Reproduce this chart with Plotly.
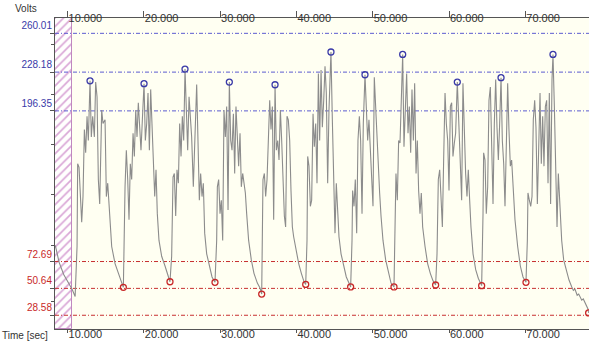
import plotly.graph_objects as go

# ---- data ----
time_s = [
    8.4, 8.9, 9.5, 10.1, 10.6, 11.0,
    11.25, 11.33, 11.51, 11.86, 12.03, 12.21, 12.38, 12.56, 12.73, 12.95, 13.12, 13.30, 13.52, 13.69, 13.87,
    14.04, 14.22, 14.48, 14.65, 14.92, 15.09, 15.27, 15.53, 15.79, 16.23, 16.66, 17.1, 17.32,
    17.54, 17.71, 17.89, 18.06, 18.23, 18.41, 18.59, 18.76, 18.94, 19.11, 19.28, 19.46, 19.63, 19.81, 20.03,
    20.2, 20.38, 20.55, 20.73, 20.9, 21.08, 21.25, 21.43, 21.6, 21.77, 21.99, 22.34, 22.78, 23.22, 23.43,
    23.65, 23.83, 24.0, 24.18, 24.35, 24.53, 24.7, 24.88, 25.05, 25.23, 25.4, 25.58, 25.75, 25.93,
    26.27, 26.49, 26.71, 26.93, 27.1, 27.28, 27.45, 27.63, 27.8, 27.98, 28.24, 28.59, 28.94, 29.33,
    29.55, 29.64, 29.81, 29.99, 30.16, 30.34, 30.51, 30.69, 30.86, 31.04, 31.21, 31.39, 31.56, 31.74, 31.91,
    32.08, 32.26, 32.43, 32.61, 32.78, 32.96, 33.31, 33.48, 33.74, 34.09, 34.44, 34.88, 35.23, 35.45,
    35.62, 35.8, 35.97, 36.15, 36.32, 36.5, 36.67, 36.85, 37.02, 37.2, 37.37, 37.55, 37.72, 37.9, 38.07,
    38.24, 38.42, 38.59, 38.77, 38.94, 39.12, 39.29, 39.47, 39.64, 39.95, 40.3, 40.65, 41.0, 41.22,
    41.39, 41.48, 41.65, 41.83, 42.0, 42.18, 42.35, 42.53, 42.7, 42.88, 43.05, 43.23, 43.4, 43.58, 43.75,
    43.92, 44.1, 44.27, 44.53, 44.71, 44.88, 45.06, 45.23, 45.41, 45.58, 45.85, 46.2, 46.54, 46.89, 47.11,
    47.29, 47.37, 47.55, 47.72, 47.9, 48.07, 48.25, 48.42, 48.6, 48.77, 48.99, 49.17, 49.34, 49.51, 49.69,
    49.86, 50.04, 50.21, 50.39, 50.56, 50.74, 50.91, 51.09, 51.35, 51.7, 52.05, 52.4, 52.79,
    52.97, 53.05, 53.23, 53.4, 53.58, 53.75, 53.93, 54.1, 54.28, 54.45, 54.63, 54.8, 54.98, 55.15, 55.33,
    55.5, 55.68, 55.85, 56.02, 56.2, 56.37, 56.55, 56.86, 57.2, 57.55, 57.9, 58.25,
    58.43, 58.6, 58.78, 58.95, 59.13, 59.3, 59.48, 59.65, 59.83, 60.0, 60.18, 60.35, 60.52, 60.7, 60.87,
    61.09, 61.31, 61.49, 61.66, 61.83, 62.01, 62.18, 62.36, 62.53, 62.71, 62.88, 63.15, 63.5, 63.84, 64.28,
    64.46, 64.54, 64.72, 64.89, 65.07, 65.24, 65.42, 65.59, 65.77, 65.94, 66.12, 66.29, 66.47, 66.64, 66.82,
    66.99, 67.17, 67.34, 67.51, 67.69, 67.86, 68.04, 68.21, 68.39, 68.65, 69.0, 69.35, 69.7, 70.09,
    70.27, 70.35, 70.53, 70.71, 70.88, 71.05, 71.23, 71.4, 71.58, 71.75, 71.93, 72.1, 72.28, 72.45, 72.63,
    72.8, 72.98, 73.15, 73.32, 73.5, 73.63, 73.81, 73.98, 74.16, 74.33, 74.5, 74.77, 75.03, 75.38, 75.73,
    76.08, 76.3, 76.51, 76.8, 77.0, 77.4, 77.6, 78.0, 78.2, 78.3,
]
volts = [
    86, 72, 62, 55, 50, 44,
    85, 153, 150, 105, 126, 181, 162, 192, 172, 221, 175, 192, 175, 220, 208,
    140, 120, 197, 186, 189, 126, 137, 112, 85, 71, 63, 56, 51.5,
    134, 164, 140, 107, 153, 140, 178, 159, 197, 175, 203, 181, 164, 189, 218.7,
    172, 186, 211, 164, 214, 183, 145, 126, 148, 112, 90, 77, 69, 60, 56.1,
    77, 142, 145, 110, 148, 137, 186, 159, 192, 172, 230.7, 200, 164, 208,
    175, 134, 172, 218, 172, 123, 145, 126, 137, 96, 79, 69, 60, 55.6,
    90, 134, 140, 112, 123, 90, 197, 175, 200, 115, 220, 172, 164, 194, 145,
    200, 167, 151, 178, 134, 145, 129, 112, 90, 74, 63, 55, 51, 46,
    140, 145, 126, 140, 172, 205, 181, 200, 107, 217.8, 164, 172, 156, 197, 172,
    131, 110, 101, 192, 189, 172, 131, 101, 93, 82, 71, 63, 56, 53.9,
    90, 159, 151, 118, 123, 194, 167, 186, 137, 227, 172, 230, 183, 205, 233,
    211, 137, 197, 244.7, 189, 145, 96, 137, 112, 93, 79, 69, 60, 55, 51.8,
    90, 131, 118, 140, 96, 172, 192, 172, 112, 186, 226, 200, 172, 189, 164,
    145, 118, 224, 200, 172, 140, 129, 110, 90, 74, 63, 55, 51.8,
    118, 145, 123, 172, 170, 200, 242.7, 167, 192, 227, 178, 200, 162, 214, 172,
    219, 145, 172, 131, 112, 129, 101, 85, 71, 63, 57, 53.4,
    79, 140, 148, 126, 101, 156, 211, 186, 172, 131, 200, 203, 159, 170, 178,
    220, 186, 159, 123, 219, 172, 145, 126, 148, 123, 101, 79, 66, 59, 52.9,
    112, 162, 156, 112, 134, 205, 216, 172, 120, 186, 222, 183, 156, 186, 223.6,
    172, 153, 118, 167, 219, 181, 151, 156, 137, 107, 85, 69, 60, 55.6,
    90, 129, 123, 118, 126, 189, 205, 183, 120, 178, 211, 153, 192, 151, 200,
    205, 137, 211, 120, 222, 242.7, 200, 153, 101, 145, 120, 90, 74, 66, 57.5,
    52, 49, 50, 45, 46, 41, 42, 36, 34, 30.5,
]

peak_t = [12.95, 20.03, 25.4, 31.21, 37.2, 44.53, 48.99, 53.93, 61.09, 66.82, 73.63]
peak_v = [221, 218.7, 230.7, 220, 217.8, 244.7, 226, 242.7, 220, 223.6, 242.7]
trough_t = [17.32, 23.43, 29.33, 35.45, 41.22, 47.11, 52.79, 58.25, 64.28, 70.09, 78.3]
trough_v = [51.5, 56.1, 55.6, 46, 53.9, 51.8, 51.8, 53.4, 52.9, 55.6, 30.5]

upper_levels = [260.01, 228.18, 196.35]
lower_levels = [72.69, 50.64, 28.58]
minor_levels = [251, 210, 169, 128, 86, 40]
x_ticks = [10, 20, 30, 40, 50, 60, 70]
x_ticktext = ["10.000", "20.000", "30.000", "40.000", "50.000", "60.000", "70.000"]

x_range = [8.36, 78.35]
y_range = [17.3, 272.6]
excluded_until = 10.55

BLUE = "#3a3aa8"
RED = "#c82828"
FONT = "Liberation Sans"

fig = go.Figure()

# hatched (excluded) region
fig.add_trace(go.Bar(
    x=[(x_range[0] + excluded_until) / 2], y=[y_range[1] - y_range[0]], base=[y_range[0]],
    width=[excluded_until - x_range[0]],
    marker=dict(color="rgba(255,255,255,0)",
                line=dict(color="#c088c0", width=1),
                pattern=dict(shape="/", fgcolor="#b450b0", bgcolor="rgba(255,255,255,0.9)",
                             size=6, solidity=0.28)),
    hoverinfo="skip", showlegend=False,
))

# reference level lines (as line traces spanning the axis range)
for lv in upper_levels:
    fig.add_trace(go.Scatter(x=x_range, y=[lv, lv], mode="lines", hoverinfo="skip",
                             line=dict(color="#5c5cd0", width=1, dash="4px,2px,1px,2px"),
                             showlegend=False))
for lv in lower_levels:
    fig.add_trace(go.Scatter(x=x_range, y=[lv, lv], mode="lines", hoverinfo="skip",
                             line=dict(color="#c83030", width=1, dash="4px,2px,1px,2px"),
                             showlegend=False))

# waveform
fig.add_trace(go.Scatter(x=time_s, y=volts, mode="lines",
                         line=dict(color="#8c8c8c", width=1.1), showlegend=False))
# peak / trough markers
fig.add_trace(go.Scatter(x=peak_t, y=peak_v, mode="markers", xaxis="x2",
                         marker=dict(symbol="circle-open", size=6, color=BLUE, line=dict(width=1.3)),
                         showlegend=False))
fig.add_trace(go.Scatter(x=trough_t, y=trough_v, mode="markers",
                         marker=dict(symbol="circle-open", size=6, color=RED, line=dict(width=1.3)),
                         showlegend=False))

y_ticktext = [f"<span style='color:{BLUE}'>{v:.2f}</span>" for v in upper_levels] + \
             [f"<span style='color:{RED}'>{v:.2f}</span>" for v in lower_levels]

axis_common = dict(showgrid=False, zeroline=False, showline=True, linecolor="#555555",
                   linewidth=1, ticks="outside", tickcolor="#555555", automargin=False)

fig.update_layout(
    width=590, height=342,
    margin=dict(l=55, r=1, t=18, b=13, autoexpand=False),
    paper_bgcolor="#ffffff", plot_bgcolor="#fffff2",
    showlegend=False,
    xaxis=dict(range=x_range, tickvals=x_ticks, ticktext=x_ticktext,
               ticklen=3, ticklabelposition="outside right", ticklabelstandoff=-5,
               tickfont=dict(family=FONT, size=11, color="#333333"), **axis_common),
    xaxis2=dict(range=x_range, overlaying="x", side="top", matches="x",
                tickvals=x_ticks, ticktext=x_ticktext, ticklen=6,
                ticklabelposition="outside right", ticklabelstandoff=-9,
                tickfont=dict(family=FONT, size=11, color="#333333"), **axis_common),
    yaxis=dict(range=y_range, tickvals=upper_levels + lower_levels, ticktext=y_ticktext,
               ticklen=4, ticklabelposition="outside top",
               minor=dict(tickvals=minor_levels, ticklen=3, ticks="outside", tickcolor="#555555"),
               tickfont=dict(family=FONT, size=10), **axis_common),
    bargap=0,
)

fig.add_annotation(text="Volts", xref="paper", yref="paper", x=-0.03, y=1.0,
                   xanchor="right", yanchor="bottom", showarrow=False, yshift=2,
                   font=dict(family=FONT, size=10, color="#333333"))
fig.add_annotation(text="Time [sec]", xref="paper", yref="paper", x=-0.01, y=0.0,
                   xanchor="right", yanchor="top", showarrow=False, yshift=1,
                   font=dict(family=FONT, size=10, color="#333333"))

fig.write_html(
    "out.html",
    config={"displayModeBar": False},
    post_script="document.body.style.margin='0';document.body.style.padding='0';"
                "document.documentElement.style.overflow='hidden';",
)
